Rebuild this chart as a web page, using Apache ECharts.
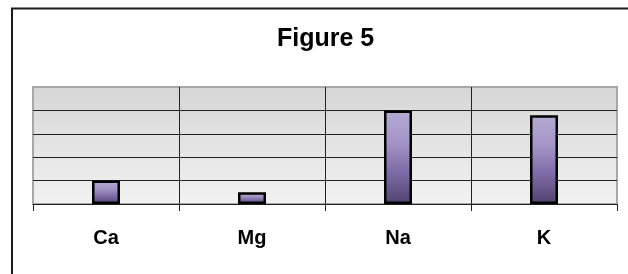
<!DOCTYPE html>
<html>
<head>
<meta charset="UTF-8">
<title>Figure 5</title>
<script src="https://cdn.jsdelivr.net/npm/echarts@6/dist/echarts.min.js"></script>
<style>
  html, body { margin: 0; padding: 0; background: #fff; }
</style>
</head>
<body>
    <div id="main" style="width: 628px;height:274px;"></div>
    <script type="text/javascript">
    // data (y axis has no labels, so units are arbitrary)
    var categories = ['Ca', 'Mg', 'Na', 'K'];
    var values = [10, 5, 40, 37.9];
    var yMin = 0;
    var yMax = 50;
    var yStep = 10;

    var myChart = echarts.init(document.getElementById('main'));

    var option = {
        animation: false,
        title: {
            text: 'Figure 5',
            left: 277,
            top: 27,
            padding: 0,
            textStyle: {
                fontFamily: 'Liberation Sans, Arial, sans-serif',
                fontSize: 25,
                fontWeight: 'bold',
                color: '#000'
            }
        },
        // outer chart frame (right/bottom edges fall off the picture)
        graphic: [{
            type: 'rect',
            shape: { x: 12, y: 8.5, width: 700, height: 400 },
            style: { fill: null, stroke: '#1a1a1a', lineWidth: 2 },
            z: 100
        }],
        grid: {
            left: 33,
            right: 11,
            top: 87,
            bottom: 70,
            show: true,
            borderColor: '#a8a8a8',
            borderWidth: 2,
            backgroundColor: new echarts.graphic.LinearGradient(0, 0, 0, 1, [
                { offset: 0, color: '#d6d6d6' },
                { offset: 1, color: '#f2f2f2' }
            ])
        },
        xAxis: {
            type: 'category',
            data: categories,
            boundaryGap: true,
            axisLine: { lineStyle: { color: '#222', width: 1 } },
            axisTick: { show: true, length: 7, lineStyle: { color: '#222' } },
            splitLine: {
                show: true,
                showMinLine: false,
                showMaxLine: false,
                lineStyle: { color: '#222', width: 1 }
            },
            axisLabel: {
                margin: 24,
                fontFamily: 'Liberation Sans, Arial, sans-serif',
                fontSize: 20,
                fontWeight: 'bold',
                color: '#000'
            }
        },
        yAxis: {
            type: 'value',
            min: yMin,
            max: yMax,
            interval: yStep,
            axisLine: { show: false },
            axisTick: { show: false },
            axisLabel: { show: false },
            splitLine: {
                show: true,
                showMinLine: false,
                showMaxLine: false,
                lineStyle: { color: '#222', width: 1 }
            }
        },
        series: [{
            type: 'bar',
            data: values,
            barWidth: 28,
            itemStyle: {
                borderColor: '#000',
                borderWidth: 2.5,
                color: new echarts.graphic.LinearGradient(0, 0, 0, 1, [
                    { offset: 0, color: '#b4aad2' },
                    { offset: 0.35, color: '#a394c6' },
                    { offset: 0.65, color: '#7f6ca8' },
                    { offset: 1, color: '#52426f' }
                ])
            }
        }]
    };

    myChart.setOption(option);
    </script>
</body>
</html>
